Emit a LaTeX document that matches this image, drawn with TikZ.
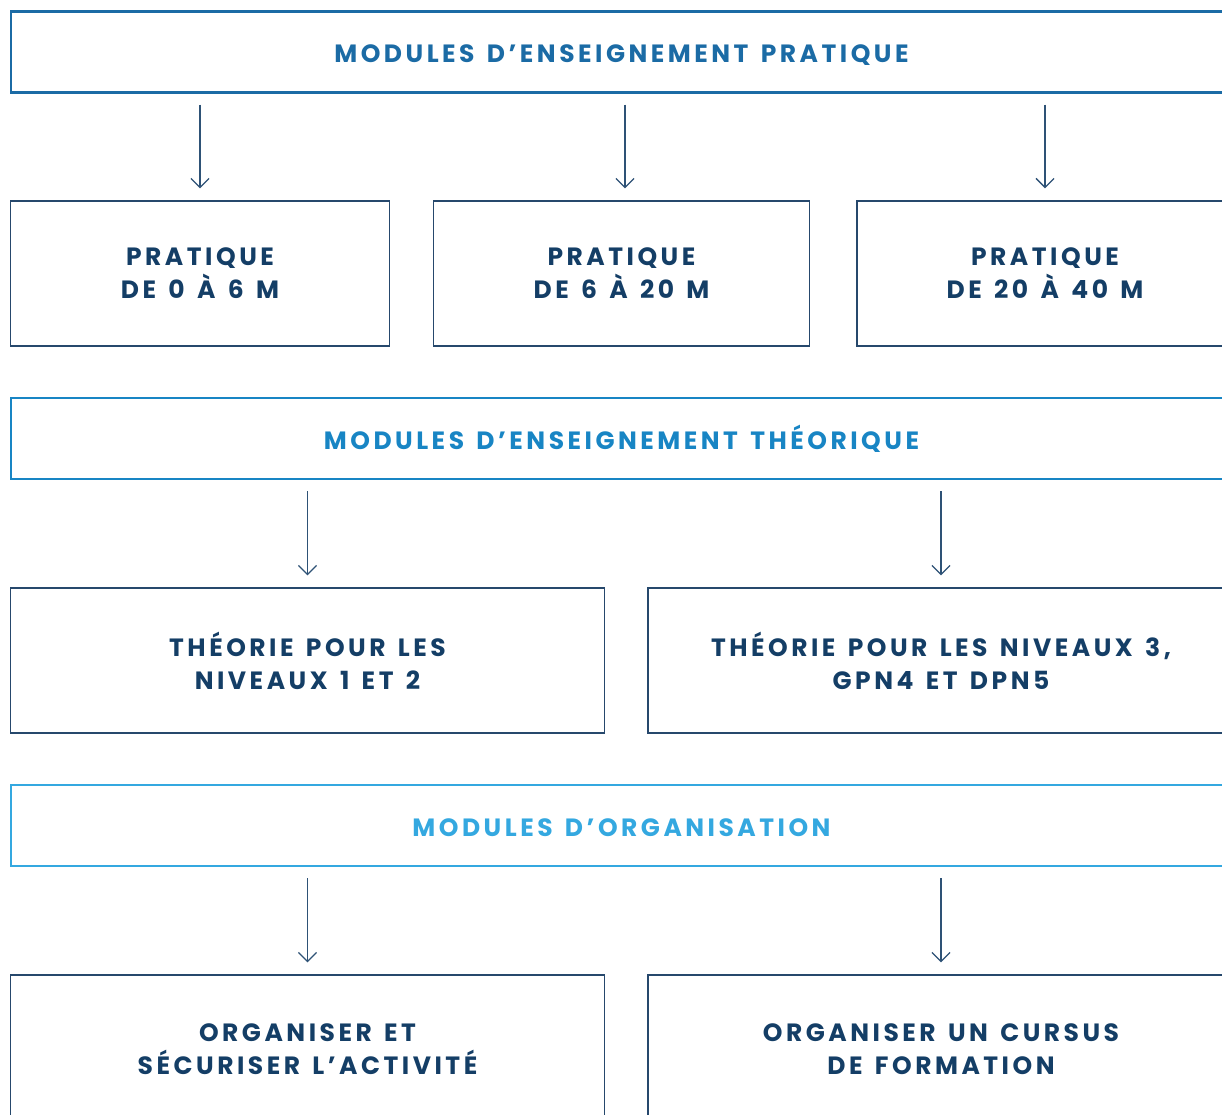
\documentclass[tikz,border=0pt]{standalone}
\usepackage{fontspec}
\newfontfamily\pop[LetterSpace=14,WordSpace=1.4]{Poppins}
\usetikzlibrary{arrows.meta}
\definecolor{hA}{RGB}{27,107,165}
\definecolor{hB}{RGB}{24,133,196}
\definecolor{hC}{RGB}{52,168,224}
\definecolor{navyline}{RGB}{38,72,108}
\definecolor{navytext}{RGB}{20,62,102}
\definecolor{arrowc}{RGB}{46,82,118}
\newcommand{\lowstrut}{\rule{0pt}{21.5pt}}
\tikzset{
  head/.style={draw, line width=2.5pt, minimum height=81pt, inner sep=0pt,
    text height=22pt, text depth=0pt,
    font=\pop\bfseries\fontsize{25}{33}\selectfont},
  leaf/.style={draw=navyline, line width=1.3pt, minimum height=145pt, inner sep=0pt,
    align=center, text=navytext, font=\pop\bfseries\fontsize{25}{33}\selectfont},
  conn/.style={draw=arrowc, line width=1.3pt, -{Straight Barb[length=9pt,width=18pt]},
    shorten <=11pt, shorten >=12pt}
}
\begin{document}
\begin{tikzpicture}[x=1pt,y=-1pt]
\useasboundingbox (0,0) rectangle (1222,1115);
\clip (0,0) rectangle (1222,1115);
% headers
\node[head, draw=hA, text=hA, minimum width=1221pt] (h1) at (621.5,52) {MODULES D’ENSEIGNEMENT PRATIQUE};
\node[head, draw=hB, text=hB, minimum width=1221pt] (h2) at (621.5,438.5) {MODULES D’ENSEIGNEMENT THÉORIQUE};
\node[head, draw=hC, text=hC, minimum width=1221pt] (h3) at (621.5,825.5) {MODULES D’ORGANISATION};
% row 1
\node[leaf, minimum width=379pt] (p1) at (200,273.5) {PRATIQUE\\DE 0 À 6 M};
\node[leaf, minimum width=376pt] (p2) at (621.5,273.5) {PRATIQUE\\DE 6 À 20 M};
\node[leaf, minimum width=376pt] (p3) at (1045,273.5) {PRATIQUE\\DE 20 À 40 M};
% row 2
\node[leaf, minimum width=594pt] (t1) at (307.5,660.5) {THÉORIE POUR LES\\NIVEAUX 1 ET 2};
\node[leaf, minimum width=586pt] (t2) at (941,660.5) {THÉORIE POUR LES NIVEAUX 3,\\GPN4 ET DPN5};
% row 3
\node[leaf, minimum width=594pt] (o1) at (307.5,1047.5) {\lowstrut ORGANISER ET\\SÉCURISER L’ACTIVITÉ};
\node[leaf, minimum width=586pt] (o2) at (941,1047.5) {\lowstrut ORGANISER UN CURSUS\\DE FORMATION};
% connectors
\draw[conn] (h1.south -| p1.north) -- (p1.north);
\draw[conn] ([xshift=3.5pt]h1.south -| p2.north) -- ([xshift=3.5pt]p2.north);
\draw[conn] (h1.south -| p3.north) -- (p3.north);
\draw[conn] (h2.south -| t1.north) -- (t1.north);
\draw[conn] (h2.south -| t2.north) -- (t2.north);
\draw[conn] (h3.south -| o1.north) -- (o1.north);
\draw[conn] (h3.south -| o2.north) -- (o2.north);
\end{tikzpicture}
\end{document}
